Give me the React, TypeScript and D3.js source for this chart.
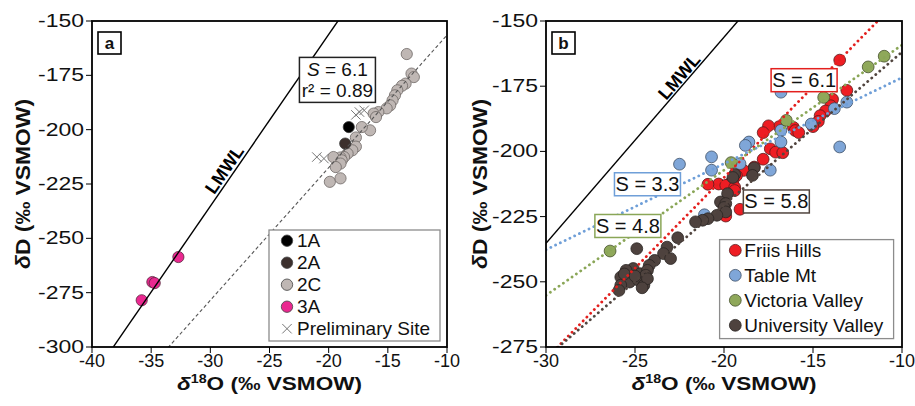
import React from "react";
import * as d3 from "d3";

type Pt = [number, number];

const FONT = "'Liberation Sans', Arial, Helvetica, sans-serif";
const W = 915;
const H = 406;

// ---------- panel a ----------
const aXTicks = [-40, -35, -30, -25, -20, -15, -10];
const aYTicks = [-150, -175, -200, -225, -250, -275, -300];
const site1A: Pt[] = [[-18.3, -198.8]];
const site2A: Pt[] = [[-18.6, -206.4]];
const site2C: Pt[] = [
  [-13.4, -165.2], [-13.0, -174.2], [-12.8, -175.8], [-13.5, -178.8], [-13.8, -179.8],
  [-14.2, -181.9], [-14.4, -184.2], [-14.6, -186.5], [-14.8, -188.8], [-15.1, -190.2],
  [-15.8, -191.9], [-16.2, -192.6], [-16.0, -194.2], [-16.5, -200.3], [-17.2, -198.8],
  [-17.7, -203.6], [-17.7, -207.8], [-18.0, -209.5], [-18.4, -211.0], [-18.7, -212.6],
  [-19.0, -212.8], [-19.6, -212.6], [-18.9, -214.1], [-19.0, -215.6], [-19.4, -217.2],
  [-19.9, -224.0], [-19.0, -222.4],
];
const site3A: Pt[] = [[-35.8, -278.5], [-34.9, -270.1], [-34.7, -270.6], [-32.7, -258.6]];
const prelimSite: Pt[] = [[-21.0, -212.6], [-20.4, -213.3], [-17.7, -193.2], [-17.4, -191.9], [-17.0, -191.1]];
const aFit = { slope: 6.1, intercept: -95.5 };
const lmwl = { slope: 7.9, intercept: 1.8 };

// ---------- panel b ----------
const bXTicks = [-30, -25, -20, -15, -10];
const bYTicks = [-150, -175, -200, -225, -250, -275];
const friisHills: Pt[] = [
  [-13.5, -165.0], [-13.1, -176.6], [-13.9, -180.0], [-14.0, -182.5], [-14.3, -184.5],
  [-14.6, -186.3], [-14.7, -188.5], [-15.0, -190.5], [-16.1, -190.8], [-16.0, -192.0],
  [-15.8, -192.8], [-16.9, -190.5], [-17.5, -190.2], [-17.8, -192.8], [-17.4, -199.0],
  [-17.1, -200.3], [-16.7, -200.5], [-17.8, -203.0], [-18.3, -206.0], [-18.9, -207.3],
  [-19.3, -209.3], [-19.5, -211.2], [-19.7, -212.5], [-20.3, -212.5], [-20.9, -212.6],
  [-19.9, -213.0], [-19.4, -213.7], [-19.4, -215.0], [-19.1, -222.2], [-19.9, -224.8],
];
const tableMt: Pt[] = [
  [-16.8, -177.3], [-13.1, -181.1], [-13.8, -183.6], [-13.5, -198.3], [-16.8, -191.9],
  [-16.8, -196.4], [-18.6, -196.4], [-18.8, -197.7], [-20.7, -202.1], [-20.7, -207.2],
  [-22.5, -204.9], [-19.1, -204.7], [-17.4, -207.2], [-21.1, -224.3], [-15.1, -189.5],
];
const victoriaValley: Pt[] = [
  [-11.0, -163.5], [-11.9, -167.6], [-14.4, -179.3], [-16.5, -188.1], [-19.6, -204.3], [-26.4, -238.2],
];
const universityValley: Pt[] = [
  [-18.3, -206.3], [-18.4, -209.2], [-19.4, -208.8], [-19.5, -210.0], [-19.8, -216.2],
  [-20.2, -219.4], [-19.9, -220.0], [-20.0, -221.5], [-19.9, -223.2], [-20.4, -224.5],
  [-20.9, -225.8], [-21.2, -226.4], [-21.6, -227.0], [-22.6, -233.1], [-23.2, -236.7],
  [-23.4, -239.2], [-23.0, -241.1], [-23.9, -241.8], [-24.2, -243.7], [-24.9, -237.3],
  [-25.1, -244.9], [-25.5, -245.6], [-24.7, -246.9], [-24.3, -245.6], [-24.4, -247.5],
  [-25.8, -248.2], [-25.3, -250.1], [-24.8, -249.4], [-24.5, -251.3], [-24.3, -248.8],
  [-25.8, -251.3], [-25.9, -253.3], [-24.6, -252.3], [-25.6, -247.0], [-25.0, -247.8],
];
const bFits = [
  { slope: 6.95, intercept: -71.0, color: "#e3201e", label: "S = 6.1" },
  { slope: 3.3, intercept: -138.7, color: "#6f9fd8", label: "S = 3.3" },
  { slope: 4.8, intercept: -111.2, color: "#8aa657", label: "S = 4.8" },
  { slope: 5.86, intercept: -103.3, color: "#51453f", label: "S = 5.8" },
];
const bFitLabelAt: Pt[] = [[-15.5, -172.7], [-24.3, -212.6], [-25.4, -228.6], [-17.06, -219.2]];

const boxA = { left: 92, right: 447, top: 21, bottom: 347 };
const boxB = { left: 546, right: 902, top: 21, bottom: 347 };

function Axes({ b, sx, sy, xTicks, yTicks, letter, yTitleX }: any) {
  const cx = (b.left + b.right) / 2;
  const cy = (b.top + b.bottom) / 2;
  return (
    <g fontFamily={FONT} fill="#111">
      <rect x={b.left} y={b.top} width={b.right - b.left} height={b.bottom - b.top} fill="none" stroke="#000" strokeWidth={1.8} />
      {yTicks.map((t: number) => (
        <g key={"y" + t}>
          <line x1={b.left - 6} x2={b.left} y1={sy(t)} y2={sy(t)} stroke="#000" />
          <text x={b.left - 8} y={sy(t)} textAnchor="end" dominantBaseline="central" fontSize={18}
            textLength={46} lengthAdjust="spacingAndGlyphs">{t}</text>
        </g>
      ))}
      {xTicks.map((t: number) => (
        <g key={"x" + t}>
          <line x1={sx(t)} x2={sx(t)} y1={b.bottom} y2={b.bottom + 6} stroke="#000" />
          <text x={sx(t)} y={b.bottom + 20} textAnchor="middle" fontSize={18}>{t}</text>
        </g>
      ))}
      <text x={cx} y={390} textAnchor="middle" fontWeight="bold" fontSize={19}
        textLength={185} lengthAdjust="spacingAndGlyphs">
        <tspan fontStyle="italic">δ</tspan>
        <tspan fontSize={12} dy={-7}>18</tspan>
        <tspan dy={7}>O (‰ VSMOW)</tspan>
      </text>
      <text transform={`translate(${yTitleX},${cy}) rotate(-90)`} textAnchor="middle" fontWeight="bold" fontSize={21}
        textLength={170} lengthAdjust="spacingAndGlyphs">
        <tspan fontStyle="italic">δ</tspan>D (‰ VSMOW)
      </text>
      <rect x={b.left + 6} y={b.top + 11} width={23} height={22} fill="#fff" stroke="#000" strokeWidth={1.6} />
      <text x={b.left + 17.5} y={b.top + 22} textAnchor="middle" dominantBaseline="central" fontWeight="bold" fontSize={17}>{letter}</text>
    </g>
  );
}

function lineAngle(sx: any, sy: any, f: { slope: number; intercept: number }) {
  const x1 = sx(-30), y1 = sy(f.slope * -30 + f.intercept);
  const x2 = sx(-20), y2 = sy(f.slope * -20 + f.intercept);
  return (Math.atan2(y2 - y1, x2 - x1) * 180) / Math.PI;
}

function FitLine({ sx, sy, f, domain, ...rest }: any) {
  const [x0, x1] = domain;
  return (
    <line x1={sx(x0)} y1={sy(f.slope * x0 + f.intercept)} x2={sx(x1)} y2={sy(f.slope * x1 + f.intercept)} {...rest} />
  );
}

function Dots({ pts, sx, sy, fill, r = 5.3, stroke = "#3a3a3a" }: any) {
  return (
    <g>
      {pts.map((p: Pt, i: number) => (
        <circle key={i} cx={sx(p[0])} cy={sy(p[1])} r={r} fill={fill} stroke={stroke} strokeWidth={0.8} />
      ))}
    </g>
  );
}

function PanelA() {
  const b = boxA;
  const sx = d3.scaleLinear().domain([-40, -10]).range([b.left, b.right]);
  const sy = d3.scaleLinear().domain([-300, -150]).range([b.bottom, b.top]);
  const xSym = d3.symbol().type(d3.symbolX).size(60);
  const ang = lineAngle(sx, sy, lmwl);
  const lx = -28.17;
  const legend = [
    { label: "1A", fill: "#000000" },
    { label: "2A", fill: "#3c302d" },
    { label: "2C", fill: "#bfb7b4" },
    { label: "3A", fill: "#ea2890" },
  ];
  const lgW = 171, lgH = 111;
  const lgX = b.right - 7 - lgW, lgY = b.bottom - 6 - lgH;
  const ann = [-19.26, -177.1];
  return (
    <g>
      <defs>
        <clipPath id="clipA"><rect x={b.left} y={b.top} width={b.right - b.left} height={b.bottom - b.top} /></clipPath>
      </defs>
      <g clipPath="url(#clipA)">
        <Dots pts={site2C} sx={sx} sy={sy} fill="#bfb7b4" r={5.6} stroke="#6e6866" />
        <Dots pts={site1A} sx={sx} sy={sy} fill="#000" r={5.6} />
        <Dots pts={site2A} sx={sx} sy={sy} fill="#3c302d" r={5.6} />
        <Dots pts={site3A} sx={sx} sy={sy} fill="#ea2890" r={5.6} stroke="#5a2a40" />
        {prelimSite.map((p, i) => (
          <path key={i} d={xSym() as string} transform={`translate(${sx(p[0])},${sy(p[1])})`} fill="none" stroke="#777" strokeWidth={1} />
        ))}
        <FitLine sx={sx} sy={sy} f={lmwl} domain={[-40, -10]} stroke="#000" strokeWidth={1.4} />
        <FitLine sx={sx} sy={sy} f={aFit} domain={[-40, -10]} stroke="#555" strokeWidth={1.1} strokeDasharray="3.5 2.5" />
      </g>
      <text transform={`translate(${sx(lx)},${sy(lmwl.slope * lx + lmwl.intercept)}) rotate(${ang})`} dy={-3}
        textAnchor="middle" fontFamily={FONT} fontWeight="bold" fontSize={18}>LMWL</text>
      <g fontFamily={FONT} fill="#111">
        <rect x={sx(ann[0]) - 38} y={sy(ann[1]) - 22.5} width={76} height={45} fill="#fff" stroke="#222" strokeWidth={1.5} />
        <text x={sx(ann[0])} y={sy(ann[1]) - 4} textAnchor="middle" fontSize={19}>
          <tspan fontStyle="italic">S</tspan> = 6.1
        </text>
        <text x={sx(ann[0])} y={sy(ann[1]) + 17} textAnchor="middle" fontSize={19}>r² = 0.89</text>
      </g>
      <g fontFamily={FONT} fill="#111">
        <rect x={lgX} y={lgY} width={lgW} height={lgH} fill="#fff" stroke="#8c8c8c" strokeWidth={1.3} />
        {legend.map((d, i) => (
          <g key={d.label} transform={`translate(${lgX + 18},${lgY + 10.7 + i * 22})`}>
            <circle r={5.7} fill={d.fill} stroke="#444" strokeWidth={0.8} />
            <text x={10} dominantBaseline="central" fontSize={19}>{d.label}</text>
          </g>
        ))}
        <g transform={`translate(${lgX + 18},${lgY + 10.7 + 4 * 22})`}>
          <path d={xSym() as string} fill="none" stroke="#777" strokeWidth={1} />
          <text x={10} dominantBaseline="central" fontSize={19}>Preliminary Site</text>
        </g>
      </g>
      <Axes b={b} sx={sx} sy={sy} xTicks={aXTicks} yTicks={aYTicks} letter="a" yTitleX={30} />
    </g>
  );
}

function PanelB() {
  const b = boxB;
  const sx = d3.scaleLinear().domain([-30, -10]).range([b.left, b.right]);
  const sy = d3.scaleLinear().domain([-275, -150]).range([b.bottom, b.top]);
  const ang = lineAngle(sx, sy, lmwl);
  const lx = -22.17;
  const series = [
    { label: "Friis Hills", pts: friisHills, fill: "#ee1d23", stroke: "#5a1a1a" },
    { label: "Table Mt", pts: tableMt, fill: "#7fa6d8", stroke: "#3e4f66" },
    { label: "Victoria Valley", pts: victoriaValley, fill: "#8fa85a", stroke: "#45512c" },
    { label: "University Valley", pts: universityValley, fill: "#4e423e", stroke: "#2a2422" },
  ];
  const lgW = 174, lgH = 99;
  const lgX = b.right - 8.4 - lgW, lgY = b.bottom - 8.4 - lgH;
  return (
    <g>
      <defs>
        <clipPath id="clipB"><rect x={b.left} y={b.top} width={b.right - b.left} height={b.bottom - b.top} /></clipPath>
      </defs>
      <g clipPath="url(#clipB)">
        {series.map((s) => (
          <Dots key={s.label} pts={s.pts} sx={sx} sy={sy} fill={s.fill} r={5.9} stroke={s.stroke} />
        ))}
        <FitLine sx={sx} sy={sy} f={lmwl} domain={[-30, -10]} stroke="#000" strokeWidth={1.4} />
        {bFits.map((f, i) => (
          <FitLine key={i} sx={sx} sy={sy} f={f} domain={[-30, -10]} stroke={f.color} strokeWidth={2.8}
            strokeDasharray="0.1 5.2" strokeLinecap="round" />
        ))}
      </g>
      <text transform={`translate(${sx(lx)},${sy(lmwl.slope * lx + lmwl.intercept)}) rotate(${ang})`} dy={-2}
        textAnchor="middle" fontFamily={FONT} fontWeight="bold" fontSize={18}>LMWL</text>
      <g fontFamily={FONT}>
        {bFits.map((f, i) => {
          const [ax, ay] = bFitLabelAt[i];
          return (
            <g key={f.label} transform={`translate(${sx(ax)},${sy(ay)})`}>
              <rect x={-33} y={-11.5} width={66} height={23} fill="#fff" stroke={f.color} strokeWidth={1.5} />
              <text textAnchor="middle" dominantBaseline="central" fontSize={20} fill="#111">{f.label}</text>
            </g>
          );
        })}
      </g>
      <g fontFamily={FONT} fill="#111">
        <rect x={lgX} y={lgY} width={lgW} height={lgH} fill="#fff" stroke="#8c8c8c" strokeWidth={1.3} />
        {series.map((s, i) => (
          <g key={s.label} transform={`translate(${lgX + 15.7},${lgY + 10.7 + i * 25})`}>
            <circle r={5.9} fill={s.fill} stroke={s.stroke} strokeWidth={0.8} />
            <text x={9} dominantBaseline="central" fontSize={19}>{s.label}</text>
          </g>
        ))}
      </g>
      <Axes b={b} sx={sx} sy={sy} xTicks={bXTicks} yTicks={bYTicks} letter="b" yTitleX={487} />
    </g>
  );
}

export default function App() {
  return (
    <div style={{ position: "absolute", left: 0, top: 0, background: "#fff" }}>
      <svg width={W} height={H} viewBox={`0 0 ${W} ${H}`}>
        <rect width={W} height={H} fill="#fff" />
        <PanelA />
        <PanelB />
      </svg>
    </div>
  );
}
